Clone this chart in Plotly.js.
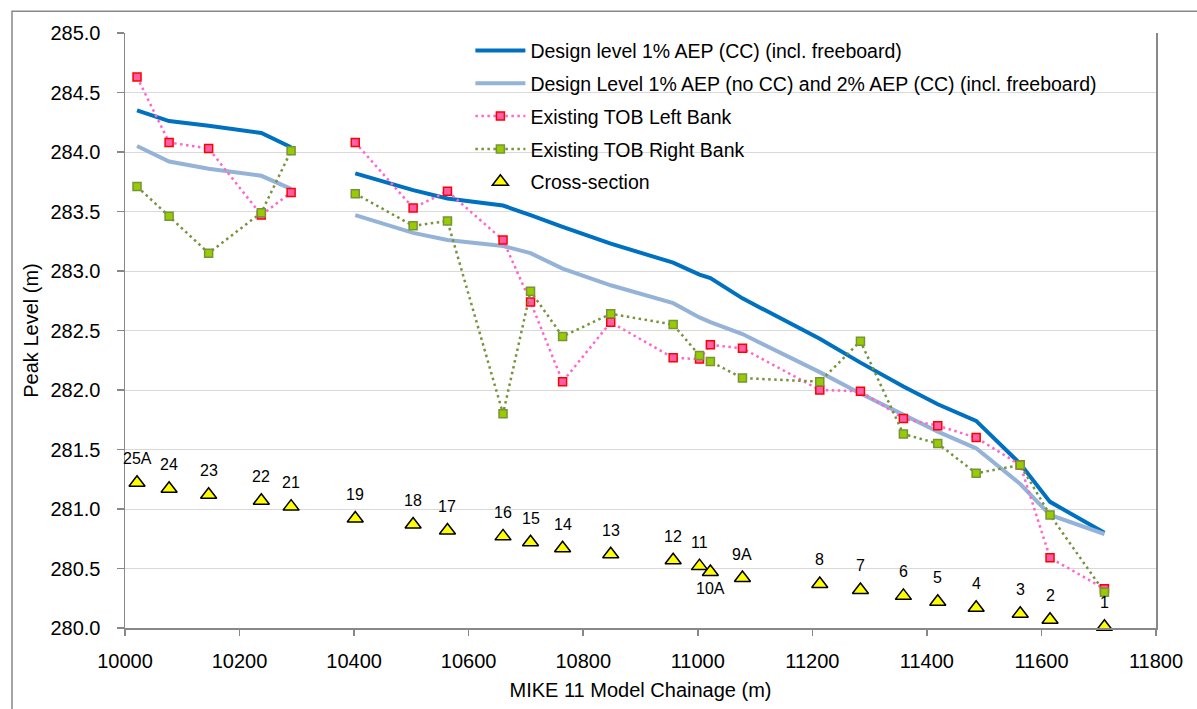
<!DOCTYPE html>
<html><head><meta charset="utf-8">
<script src="https://cdn.plot.ly/plotly-3.0.1.min.js"></script>
<style>html,body{margin:0;padding:0;background:#fff}#chart{width:1197px;height:709px}</style>
</head><body><div id="chart"></div>
<script>
// Cross-section names along the reach (section 20 is absent, lines break there)
const sectionLabels = ['25A','24','23','22','21','19','18','17','16','15','14','13','12','11','10A','9A','8','7','6','5','4','3','2','1'];
const chainage = [10021,10077,10146,10238,10290,10402,10503,10563,10660,10708,10764,10848,10957,11003,11022,11078,11213,11284,11359,11419,11486,11563,11615,11710];
const sectionLevel = [281.22,281.17,281.12,281.07,281.02,280.92,280.87,280.82,280.77,280.72,280.67,280.62,280.57,280.52,280.47,280.42,280.37,280.32,280.27,280.22,280.17,280.12,280.07,280.01];
const designCC = [284.35,284.26,284.22,284.16,284.04,283.82,283.68,283.61,283.55,283.47,283.37,283.23,283.07,282.97,282.94,282.77,282.43,282.23,282.03,281.88,281.74,281.38,281.06,280.80];
const designNoCC = [284.05,283.92,283.86,283.80,283.69,283.47,283.32,283.26,283.21,283.15,283.02,282.88,282.73,282.61,282.57,282.47,282.15,281.97,281.79,281.65,281.51,281.21,280.95,280.79];
const tobLeft = [284.63,284.08,284.03,283.47,283.66,284.08,283.53,283.67,283.26,282.74,282.07,282.57,282.27,282.26,282.38,282.35,282.00,281.99,281.76,281.70,281.60,281.37,280.59,280.33];
const tobRight = [283.71,283.46,283.15,283.49,284.01,283.65,283.38,283.42,281.80,282.83,282.45,282.64,282.55,282.29,282.24,282.10,282.07,282.41,281.63,281.55,281.30,281.37,280.95,280.30];
const seriesNames = ['Design level 1% AEP (CC) (incl. freeboard)','Design Level 1% AEP (no CC) and 2% AEP (CC) (incl. freeboard)','Existing TOB Left Bank','Existing TOB Right Bank','Cross-section'];
const xTicks = [10000,10200,10400,10600,10800,11000,11200,11400,11600,11800];
const yTicks = [280,280.5,281,281.5,282,282.5,283,283.5,284,284.5,285];
const gapAfter = '21';
const labelsBelow = ['10A'];

const FONT = 'Liberation Sans, Arial, sans-serif';
function withGap(arr){
  const i = sectionLabels.indexOf(gapAfter);
  return arr.slice(0, i+1).concat([null], arr.slice(i+1));
}
const xg = withGap(chainage);

const traces = [
  {x: xg, y: withGap(designCC), name: seriesNames[0], mode: 'lines', legendgroup: 'a',
   line: {color: '#0070C0', width: 4}, connectgaps: false},
  {x: xg, y: withGap(designNoCC), name: seriesNames[1], mode: 'lines', legendgroup: 'b',
   line: {color: '#95B3D7', width: 4}, connectgaps: false},
  {x: xg, y: withGap(tobLeft), name: seriesNames[2], mode: 'lines+markers', legendgroup: 'c',
   line: {color: '#FF66CC', width: 2.5, dash: '2.5px,3.5px'}, connectgaps: false,
   marker: {symbol: 'square', size: 8, color: '#FF5FA8', line: {color: '#FF0000', width: 1.5}}},
  {x: xg, y: withGap(tobRight), name: seriesNames[3], mode: 'lines+markers', legendgroup: 'd',
   line: {color: '#77933C', width: 2.5, dash: '2.5px,3.5px'}, connectgaps: false,
   marker: {symbol: 'square', size: 8, color: '#99CC00', line: {color: '#77933C', width: 1.5}}},
  {x: chainage, y: sectionLevel, name: seriesNames[4], mode: 'markers', legendgroup: 'e', cliponaxis: false,
   marker: {symbol: 'triangle-up', size: 14, color: '#FFFF00', line: {color: '#000000', width: 1.5}}}
];

const annotations = sectionLabels.map((lab, i) => ({
  x: chainage[i], y: sectionLevel[i], text: lab, showarrow: false,
  xref: 'x', yref: 'y', xanchor: 'center', yanchor: 'middle',
  yshift: labelsBelow.includes(lab) ? -16 : 24,
  font: {family: FONT, size: 16, color: '#000'}
}));

const layout = {
  width: 1197, height: 709,
  margin: {l: 125, r: 41, t: 33, b: 81},
  paper_bgcolor: '#fff', plot_bgcolor: '#fff',
  font: {family: FONT, size: 20, color: '#000'},
  showlegend: true,
  legend: {x: 0.335, xanchor: 'left', y: 1.003, yanchor: 'top', bgcolor: 'rgba(255,255,255,0)', itemwidth: 50,
           font: {family: FONT, size: 19.5, color: '#000'}, traceorder: 'grouped', tracegroupgap: 4.5},
  annotations: annotations,
  xaxis: {range: [10000, 11800], tickvals: xTicks, ticktext: xTicks.map(String), ticks: 'outside', ticklen: 6,
          tickcolor: '#888', tickwidth: 1.5, showline: true, linecolor: '#888', linewidth: 1.5,
          showgrid: false, zeroline: false, tickfont: {family: FONT, size: 20},
          ticklabelstandoff: 8,
          title: {text: 'MIKE 11 Model Chainage (m)', font: {family: FONT, size: 20}, standoff: 12}},
  yaxis: {range: [280, 285], tickvals: yTicks, ticktext: yTicks.map(v => v.toFixed(1)), ticks: 'outside', ticklen: 7,
          tickcolor: '#888', tickwidth: 1.5, showline: true, mirror: true, linecolor: '#888', linewidth: 1.5,
          showgrid: true, gridcolor: '#D9D9D9', gridwidth: 1, zeroline: false,
          tickfont: {family: FONT, size: 20}, ticklabelstandoff: 12,
          title: {text: 'Peak Level (m)', font: {family: FONT, size: 20}, standoff: 6}},
  shapes: [
    {type: 'rect', xref: 'paper', yref: 'paper', x0: 0.33, x1: 0.9476, y0: 0.7224, y1: 0.998,
     line: {width: 0}, fillcolor: '#fff', layer: 'between'},
    {type: 'rect', xref: 'paper', yref: 'paper', x0: -0.1096, x1: 1.05, y0: -0.15, y1: 1.0366,
     line: {color: '#888', width: 1.5}, fillcolor: 'rgba(0,0,0,0)', layer: 'below'}
  ]
};

Plotly.newPlot('chart', traces, layout, {displayModeBar: false, staticPlot: true});
</script>
</body></html>
